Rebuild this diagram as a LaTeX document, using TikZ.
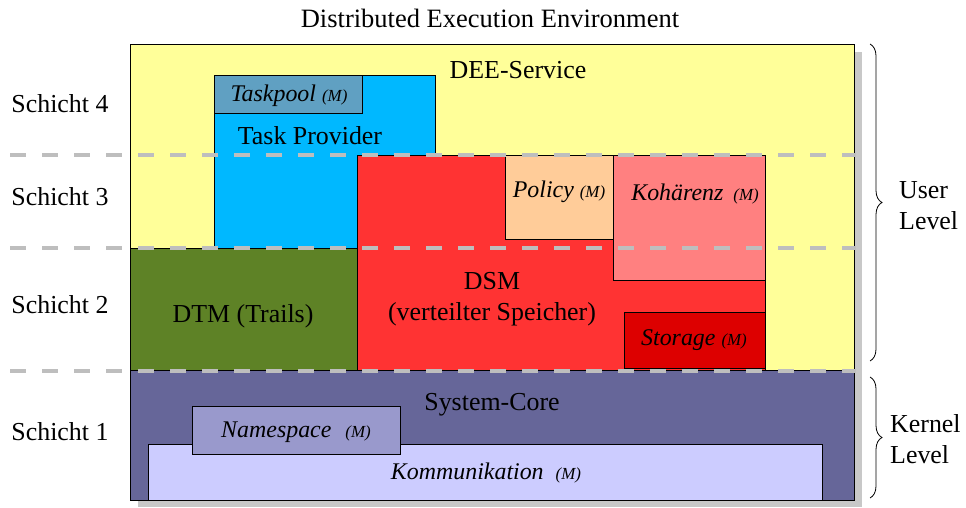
\documentclass[tikz,border=0pt]{standalone}
\usepackage{fontspec}
\setmainfont{Liberation Serif}
\usetikzlibrary{decorations.pathreplacing}

\definecolor{serviceyellow}{RGB}{255,255,153}
\definecolor{corepurple}{RGB}{102,102,153}
\definecolor{providerblue}{RGB}{0,184,255}
\definecolor{poolblue}{RGB}{96,160,194}
\definecolor{dsmred}{RGB}{255,51,51}
\definecolor{policypeach}{RGB}{255,204,153}
\definecolor{cohpink}{RGB}{255,128,128}
\definecolor{storagered}{RGB}{221,0,0}
\definecolor{dtmgreen}{RGB}{94,130,38}
\definecolor{nslilac}{RGB}{153,153,204}
\definecolor{commlilac}{RGB}{204,204,255}
\definecolor{shadowgray}{RGB}{200,200,200}
\definecolor{layergray}{RGB}{190,190,190}

\newcommand{\bigtxt}{\rmfamily\fontsize{25.9}{31}\selectfont}
\newcommand{\modtxt}{\rmfamily\fontsize{23.9}{28}\selectfont\itshape}
\newcommand{\mtag}{{\fontsize{16.9}{20}\selectfont\itshape (M)}}

\begin{document}
\begin{tikzpicture}[x=1pt,y=-1pt,
  block/.style={draw=black,line width=0.8pt},
  boxtext/.style={inner sep=0pt,font=\bigtxt},
  modtext/.style={inner sep=0pt,font=\modtxt},
  layerline/.style={draw=layergray,line width=4pt,dash pattern=on 16pt off 16pt},
  levelbrace/.style={draw=black,line width=0.8pt,decorate,decoration={brace,amplitude=12pt}}]
\useasboundingbox (0,0) rectangle (966,507);

% title
\node[inner sep=0pt,font=\rmfamily\fontsize{26.5}{30}\selectfont] (title) at (490,18) {Distributed Execution Environment};

% drop shadow and the two main layers
\fill[shadowgray] (138,52) rectangle (862,507);
\filldraw[fill=serviceyellow,draw=black,line width=0.8pt] (130,44) rectangle (854,370);
\filldraw[fill=corepurple,draw=black,line width=0.8pt] (130,370) rectangle (854,500);

% user level components
\filldraw[block,fill=providerblue] (214,75) rectangle (435,248);
\filldraw[block,fill=poolblue] (214,75) rectangle (362,113);
\filldraw[block,fill=dtmgreen] (130,248) rectangle (357,370);
\filldraw[block,fill=dsmred] (357,155) rectangle (765,370);
\filldraw[block,fill=policypeach] (505,155) rectangle (613,239);
\filldraw[block,fill=cohpink] (613,155) rectangle (765,280);
\filldraw[block,fill=storagered] (624,312) rectangle (765,368);

% kernel level components
\filldraw[block,fill=commlilac] (148,444) rectangle (822,500);
\filldraw[block,fill=nslilac] (192,406) rectangle (400,454);

% labels
\node[boxtext] (dee) at (518,70) {DEE-Service};
\node[modtext] (taskpool) at (289,96) {Taskpool \mtag};
\node[boxtext] (provider) at (310,136) {Task Provider};
\node[modtext] (policy) at (559,192) {Policy \mtag};
\node[modtext] (coh) at (695,194) {Kohärenz\hspace{10pt}\mtag};
\node[boxtext] (dsm) at (492,281) {DSM};
\node[boxtext] (dsmsub) at (492,314) {(verteilter Speicher)};
\node[boxtext] (dtm) at (243,316) {DTM (Trails)};
\node[modtext] (storage) at (694,340) {Storage \mtag};
\node[boxtext] (core) at (492,405) {System-Core};
\node[modtext] (ns) at (296,432) {Namespace\hspace{14pt}\mtag};
\node[modtext] (comm) at (486,473) {Kommunikation\hspace{12pt}\mtag};

% layer names
\node[boxtext] (s4) at (60,104) {Schicht 4};
\node[boxtext] (s3) at (60,197) {Schicht 3};
\node[boxtext] (s2) at (60,305) {Schicht 2};
\node[boxtext] (s1) at (60,432) {Schicht 1};

% layer boundaries
\coordinate (l3a) at (10,155);  \coordinate (l3b) at (856,155);
\coordinate (l2a) at (10,248);  \coordinate (l2b) at (856,248);
\coordinate (l1a) at (10,371);  \coordinate (l1b) at (856,371);
\draw[layerline] (l3a) -- (l3b);
\draw[layerline] (l2a) -- (l2b);
\draw[layerline] (l1a) -- (l1b);

% level braces
\coordinate (ub1) at (870,44);  \coordinate (ub2) at (870,361);
\coordinate (kb1) at (870,377); \coordinate (kb2) at (870,498);
\draw[levelbrace] (ub1) -- (ub2);
\draw[levelbrace] (kb1) -- (kb2);
\node[boxtext,anchor=west,align=left] (user) at (899,206) {User\\Level};
\node[boxtext,anchor=west,align=left] (kernel) at (890,439) {Kernel\\Level};
\end{tikzpicture}
\end{document}
